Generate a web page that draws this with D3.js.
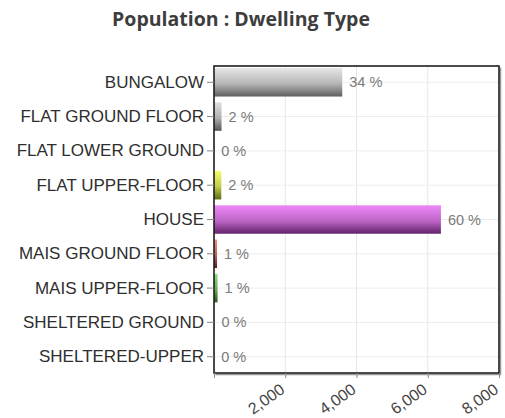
<!DOCTYPE html>
<html>
<head>
<meta charset="utf-8">
<script src="https://cdn.jsdelivr.net/npm/d3@7"></script>
<style>
  html, body { margin: 0; padding: 0; background: #fff; }
  svg { display: block; }
</style>
</head>
<body>
<svg id="chart" width="505" height="418"></svg>
<script>
// Dwelling types and the number of residents in each
const categories = [
  "BUNGALOW", "FLAT GROUND FLOOR", "FLAT LOWER GROUND", "FLAT UPPER-FLOOR",
  "HOUSE", "MAIS GROUND FLOOR", "MAIS UPPER-FLOOR", "SHELTERED GROUND", "SHELTERED-UPPER"
];
const values = [3600, 212, 8, 205, 6370, 85, 100, 12, 6];
const xTicks = [2000, 4000, 6000, 8000];

// gradient stops (top, bottom) per bar
const barColors = [
  ["#e6e6e6", "#5e5e5e"],
  ["#e0e0e0", "#555555"],
  ["#e8e8e8", "#777777"],
  ["#f4ff6a", "#5f6a10"],
  ["#ee88f8", "#62236a"],
  ["#f08a8a", "#5a1a1a"],
  ["#8fdc7a", "#235a1a"],
  ["#dddddd", "#777777"],
  ["#dddddd", "#777777"]
];

const FONT = "'Liberation Sans', Arial, Helvetica, sans-serif";
const total = d3.sum(values);
const svg = d3.select("#chart");
const margin = { left: 214, right: 6, top: 66, bottom: 45 };
const W = 505, H = 418;
const innerW = W - margin.left - margin.right;
const innerH = H - margin.top - margin.bottom;

const x = d3.scaleLinear().domain([0, 8000]).range([0, innerW]);
const y = d3.scaleBand().domain(categories).range([0, innerH]).paddingInner(0.17).paddingOuter(0.06);

// title
svg.append("text")
  .attr("x", 241).attr("y", 26)
  .attr("text-anchor", "middle")
  .attr("font-family", "'Open Sans', sans-serif")
  .attr("font-weight", "bold")
  .attr("font-size", 19.5)
  .attr("fill", "#3d3d3d")
  .text("Population : Dwelling Type");

const defs = svg.append("defs");
barColors.forEach((c, i) => {
  const g = defs.append("linearGradient")
    .attr("id", "bar-grad-" + i)
    .attr("x1", 0).attr("y1", 0).attr("x2", 0).attr("y2", 1);
  g.append("stop").attr("offset", "0%").attr("stop-color", c[0]);
  g.append("stop").attr("offset", "55%").attr("stop-color", d3.interpolateRgb(c[0], c[1])(0.35));
  g.append("stop").attr("offset", "100%").attr("stop-color", c[1]);
});

const plot = svg.append("g").attr("transform", `translate(${margin.left},${margin.top})`);

// grid lines
plot.append("g").selectAll("line")
  .data(xTicks)
  .join("line")
  .attr("x1", d => x(d)).attr("x2", d => x(d))
  .attr("y1", 0).attr("y2", innerH)
  .attr("stroke", "#e6e6e6").attr("stroke-width", 1);

plot.append("g").selectAll("line")
  .data(categories)
  .join("line")
  .attr("x1", 0).attr("x2", innerW)
  .attr("y1", d => y(d) + y.bandwidth() / 2).attr("y2", d => y(d) + y.bandwidth() / 2)
  .attr("stroke", "#ececec").attr("stroke-width", 1);

// bars
plot.append("g").selectAll("rect")
  .data(values)
  .join("rect")
  .attr("x", 0)
  .attr("y", (d, i) => y(categories[i]))
  .attr("width", d => x(d))
  .attr("height", y.bandwidth())
  .attr("fill", (d, i) => `url(#bar-grad-${i})`);

// value labels
plot.append("g").selectAll("text")
  .data(values)
  .join("text")
  .attr("x", d => x(d) + 7)
  .attr("y", (d, i) => y(categories[i]) + y.bandwidth() / 2 + 5)
  .attr("font-family", FONT)
  .attr("font-size", 14.5)
  .attr("fill", "#7a7a7a")
  .text(d => Math.round(d / total * 100) + " %");

// frame with a faint shadow on the right and bottom
plot.append("path")
  .attr("d", `M${innerW + 1.5},1.5 V${innerH + 1.5} H1.5`)
  .attr("fill", "none").attr("stroke", "#999").attr("stroke-width", 1.5);
plot.append("rect")
  .attr("x", 0).attr("y", 0).attr("width", innerW).attr("height", innerH)
  .attr("fill", "none").attr("stroke", "#1e1e1e").attr("stroke-width", 1.6);

// y axis
const yAxis = plot.append("g")
  .call(d3.axisLeft(y).tickSize(7).tickPadding(3));
yAxis.select(".domain").remove();
yAxis.selectAll(".tick line").attr("stroke", "#888");
yAxis.selectAll(".tick text")
  .attr("font-family", FONT)
  .attr("font-size", 17)
  .attr("fill", "#2e2e2e");

// x axis, labels slanted upward
const xAxis = plot.append("g")
  .attr("transform", `translate(0,${innerH})`)
  .call(d3.axisBottom(x).tickValues([0, ...xTicks]).tickSize(5).tickFormat(d => d === 0 ? "" : d3.format(",")(d)));
xAxis.select(".domain").remove();
xAxis.selectAll(".tick line").attr("stroke", "#888");
xAxis.selectAll(".tick text")
  .attr("font-family", FONT)
  .attr("font-size", 16)
  .attr("fill", "#444")
  .attr("text-anchor", "end")
  .attr("x", 0).attr("y", 0).attr("dy", 0)
  .attr("transform", "translate(0,19) rotate(-35)");
</script>
</body>
</html>
